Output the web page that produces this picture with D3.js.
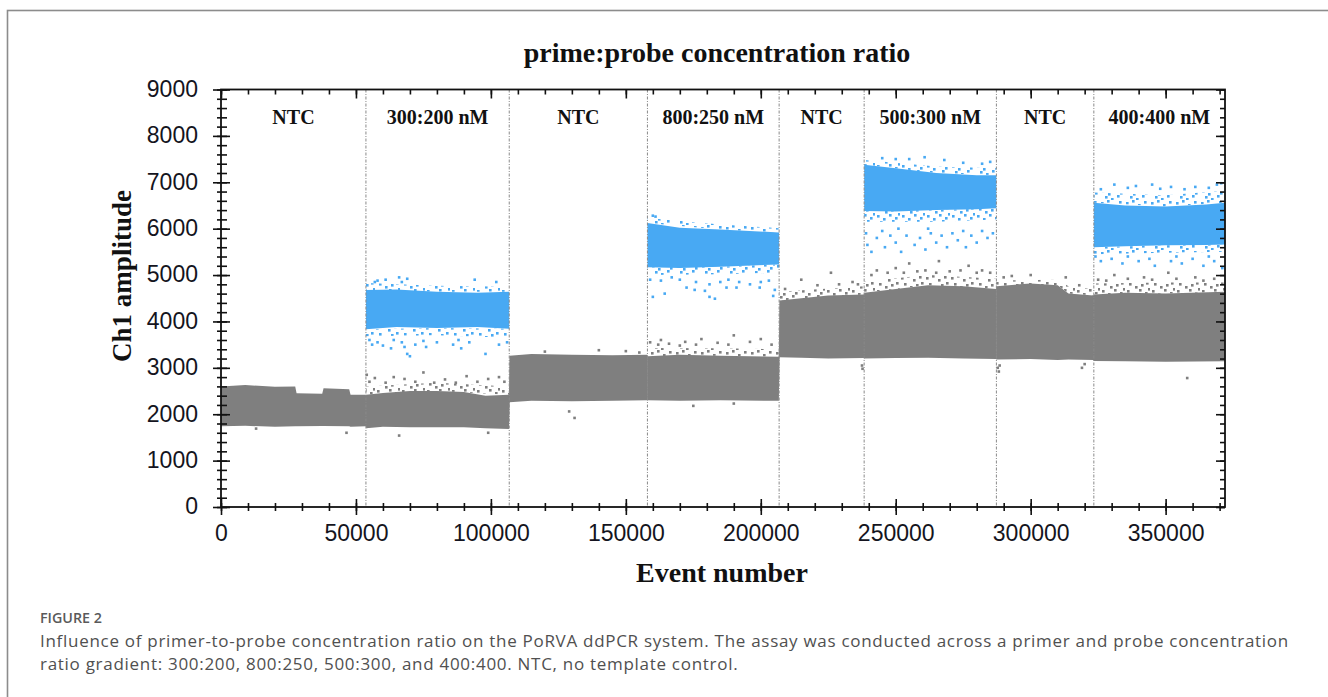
<!DOCTYPE html>
<html>
<head>
<meta charset="utf-8">
<script src="https://cdn.jsdelivr.net/npm/d3@7"></script>
<style>
  html, body { margin: 0; padding: 0; background: #fff; }
  svg { display: block; }
</style>
</head>
<body>
<svg id="chart" width="1328" height="697"></svg>
<script>
// ---------------- DATA ----------------
const chartTitle = "prime:probe concentration ratio";
const yLabel = "Ch1 amplitude";
const xLabel = "Event number";
const captionHead = "FIGURE 2";
const captionLines = [
  "Influence of primer-to-probe concentration ratio on the PoRVA ddPCR system. The assay was conducted across a primer and probe concentration",
  "ratio gradient: 300:200, 800:250, 500:300, and 400:400. NTC, no template control."
];
const xTicksMajor = [0, 50000, 100000, 150000, 200000, 250000, 300000, 350000];
const yTicksMajor = [0, 1000, 2000, 3000, 4000, 5000, 6000, 7000, 8000, 9000];
const xMax = 372000;
const yMax = 9000;

// well boundaries (event numbers) and labels
const boundaries = [0, 53700, 106800, 158000, 206800, 238300, 287300, 323400, 372000];
const segmentLabels = ["NTC", "300:200 nM", "NTC", "800:250 nM", "NTC", "500:300 nM", "NTC", "400:400 nM"];

// dense negative-droplet cloud (grey): [event, low amplitude, high amplitude]
const negBand = [
  [0,1740,2600],[9000,1750,2630],[20000,1730,2590],[27500,1740,2600],[28000,1740,2450],[37500,1745,2440],[38000,1745,2560],[47500,1740,2540],[48000,1730,2420],[53700,1740,2420],
  [53800,1700,2420],[60000,1730,2460],[70000,1720,2500],[80000,1720,2500],[90000,1720,2480],[98000,1700,2400],[106700,1680,2420],
  [106900,2260,3260],[115000,2290,3300],[130000,2280,3280],[145000,2290,3270],[157900,2300,3280],
  [158100,2300,3250],[170000,2290,3280],[185000,2300,3260],[206700,2290,3240],
  [206900,3230,4450],[215000,3220,4500],[225000,3200,4560],[238200,3210,4580],
  [238400,3200,4620],[250000,3210,4700],[262000,3220,4780],[275000,3200,4760],[287200,3190,4700],
  [287400,3180,4760],[300000,3190,4820],[310000,3170,4780],[314000,3180,4600],[323300,3170,4560],
  [323500,3150,4580],[335000,3140,4620],[350000,3130,4600],[372000,3140,4640]
];

// speckled fringe of the grey cloud (upper edge): [event, low, high]
const negFringe2 = [[53700,2420,2600],[80000,2500,2680],[106800,2420,2600]];
const negFringe4 = [[158000,3250,3430],[185000,3260,3420],[206800,3240,3400]];
const negFringe5 = [[206800,4450,4640],[238300,4580,4760]];
const negFringe6 = [[238300,4620,4860],[262000,4780,5000],[287300,4700,4920]];
const negFringe7 = [[287300,4760,4880],[310000,4780,4900],[314000,4600,4760],[323400,4560,4700]];
const negFringe8 = [[323400,4580,4820],[350000,4600,4840],[372000,4640,4840]];

// dense positive-droplet clouds (blue): [event, low amplitude, high amplitude]
const posBand2 = [[53700,3830,4680],[65000,3880,4690],[80000,3860,4640],[95000,3880,4620],[106800,3840,4640]];
const posBand4 = [[158000,5170,6120],[170000,5150,6020],[185000,5180,5980],[206800,5230,5920]];
const posBand6 = [[238300,6380,7380],[250000,6370,7300],[265000,6400,7200],[280000,6420,7150],[287300,6440,7150]];
const posBand8 = [[323400,5600,6560],[335000,5620,6500],[350000,5640,6480],[365000,5650,6520],[372000,5660,6560]];

// speckled fringes of the blue clouds: [event, low, high]
const posFringe2 = [[53700,3680,3830],[80000,3700,3860],[106800,3650,3840]];
const posFringe2u = [[53700,4680,4830],[80000,4640,4770],[106800,4640,4750]];
const posFringe4 = [[158000,5000,5170],[185000,5020,5180],[206800,5050,5230]];
const posFringe4u = [[158000,6120,6230],[185000,5980,6090],[206800,5920,6010]];
const posFringe6 = [[238300,6150,6380],[265000,6150,6400],[287300,6200,6440]];
const posFringe6u = [[238300,7380,7480],[265000,7200,7340],[287300,7150,7300]];
const posFringe8 = [[323400,5450,5600],[350000,5480,5640],[372000,5500,5660]];
const posFringe8u = [[323400,6560,6780],[350000,6480,6720],[372000,6560,6820]];

// scattered grey droplets outside the dense cloud: [event in thousands, amplitude]
const negOutliers = [
  [46.5,1600],[13,1690],
  [54,2850],[55,2700],[57,2780],[61,2680],[64,2800],[68,2760],[72,2700],[75,2900],[79,2680],[83,2750],[87,2680],[91,2820],[95,2700],[99,2760],[103,2800],[105,2700],
  [66,1540],[99,1600],
  [129,2060],[131,1920],[120,3350],[140,3380],[150,3360],[155,3330],
  [159,3550],[162,3500],[163,3600],[166,3520],[170,3480],[172,3560],[176,3500],[178,3620],[184,3540],[188,3500],[190,3700],[196,3560],[200,3620],[204,3500],
  [175,2180],[190,2230],
  [209,4700],[215,4900],[221,4780],[226,5050],[229,4800],[234,4850],[236,4800],
  [237.5,3050],[237.7,2980],
  [241,5000],[243,5100],[247,5050],[250,5150],[253,5050],[255,5250],[258,5080],[261,5100],[265,5050],[266,5300],[270,5080],[274,5100],[277,5200],[280,5050],[282,5100],[285,5050],
  [290,4950],[293,4980],[300,5000],[313,4950],[318,4780],
  [287.8,3000],[288.2,2920],[288.5,3050],[319,3000],[320,3080],
  [325,4900],[328,4880],[331,5000],[336,4920],[342,4950],[345,4900],[351,5050],[354,4920],[361,4950],[364,4880],[368,4920],
  [358,2780]
];

// scattered blue droplets outside the dense clouds: [event in thousands, amplitude]
const posOutliers = [
  [57,4850],[58,4880],[61,4900],[66,4950],[67,4850],[69,4920],[94,4900],[102,4850],
  [55,3600],[56,3500],[58,3550],[60,3480],[63,3420],[64,3600],[67,3550],[68,3450],[69,3300],[70,3250],[72,3500],[75,3580],[76,3450],[80,3550],[86,3500],[88,3600],[89,3420],[92,3550],[98,3300],[103,3500],[106,3550],
  [160,6280],[161,6260],
  [160,4530],[164.4,4600],[172.5,4730],[175.5,4680],[179.3,4660],[181,4530],[183,4490],[187.3,4730],[191,4730],[199.6,4730],[205.2,4680],[204.6,4550],
  [159,4900],[163,4880],[167,4950],[170,4900],[176,4850],[181,4800],[185,4850],[188,4900],[192,4850],[196,4800],[200,4850],[203,4880],
  [245,7520],[250,7500],[255,7500],[260.7,7540],[268,7480],[275,7420],[282,7400],[285,7440],
  [239,5900],[239.5,5650],[241,5500],[243,5800],[245,5950],[246,5600],[248,5850],[250,5700],[251,6000],[252,5500],[254,5850],[257,5650],[259,5800],[261,5550],[262,6000],[263,5900],[265,5700],[267,5850],[269,5600],[271,5900],[273,5750],[275,5950],[276,5600],[278,5850],[280,5700],[282,5950],[284,5800],[286,5900],
  [326,6850],[331,6950],[336,6880],[339,6920],[345,6950],[348,6860],[352,6900],[357,6850],[361,6900],[366,6880],[369,6950],[370.6,6980],
  [324,5400],[326,5300],[330,5350],[334,5250],[336,5400],[340,5300],[344,5350],[346,5200],[352,5300],[354,5400],[356,5250],[360,5350],[364,5200],[366,5400],[368,5300],[371,5150]
];

// ---------------- DRAW ----------------
const GREY = "#7f7f7f";
const BLUE = "#48a9f3";
const svg = d3.select("#chart");

// speckle patterns (style only)
const defs = svg.append("defs");
const speckle = [[1,2],[7,0],[13,4],[19,1],[4,8],[10,11],[16,9],[21,7],[2,15],[8,18],[14,14],[20,17],[5,21],[11,23],[17,20],[23,13]];
[["spGrey", GREY], ["spBlue", BLUE]].forEach(([id, col]) => {
  const p = defs.append("pattern").attr("id", id).attr("patternUnits", "userSpaceOnUse")
    .attr("width", 25).attr("height", 25);
  p.selectAll("rect").data(speckle).join("rect")
    .attr("x", d => d[0]).attr("y", d => d[1]).attr("width", 2.6).attr("height", 2.6).attr("fill", col);
});

// outer frame
svg.append("rect").attr("x", 7.5).attr("y", 10.5).attr("width", 1400).attr("height", 800)
  .attr("fill", "none").attr("stroke", "#8c8c8c").attr("stroke-width", 1.6);

const plot = { left: 221, right: 1225, top: 89.5, bottom: 507 };
const x = d3.scaleLinear().domain([0, xMax]).range([plot.left, plot.right]);
const y = d3.scaleLinear().domain([0, yMax]).range([plot.bottom, plot.top]);

const g = svg.append("g");
const area = d3.area().x(d => x(d[0])).y0(d => y(d[1])).y1(d => y(d[2]));

// fringes
[negFringe2, negFringe4, negFringe5, negFringe6, negFringe7, negFringe8].forEach(b => {
  g.append("path").datum(b).attr("d", area).attr("fill", "url(#spGrey)");
});
[posFringe2, posFringe2u, posFringe4, posFringe4u, posFringe6, posFringe6u, posFringe8, posFringe8u].forEach(b => {
  g.append("path").datum(b).attr("d", area).attr("fill", "url(#spBlue)");
});

// dense clouds
for (let i = 0; i < boundaries.length - 1; i++) {
  const seg = negBand.filter(d => d[0] >= boundaries[i] - 200 && d[0] <= boundaries[i + 1] + 200);
  g.append("path").datum(seg).attr("d", area).attr("fill", GREY);
}
[posBand2, posBand4, posBand6, posBand8].forEach(b => {
  g.append("path").datum(b).attr("d", area).attr("fill", BLUE);
});

// scattered droplets
const S = 2.6;
g.selectAll(".neg").data(negOutliers).join("rect")
  .attr("x", d => x(d[0] * 1000) - S / 2).attr("y", d => y(d[1]) - S / 2)
  .attr("width", S).attr("height", S).attr("fill", GREY);
g.selectAll(".pos").data(posOutliers).join("rect")
  .attr("x", d => x(d[0] * 1000) - S / 2).attr("y", d => y(d[1]) - S / 2)
  .attr("width", S).attr("height", S).attr("fill", BLUE);

// divider lines
g.selectAll(".div").data(boundaries.slice(1, -1)).join("line")
  .attr("x1", d => x(d)).attr("x2", d => x(d))
  .attr("y1", plot.top).attr("y2", plot.bottom)
  .attr("stroke", "#8a8a8a").attr("stroke-width", 1)
  .attr("stroke-dasharray", "3,1.5,1,1.5");

// segment labels
g.selectAll(".seglab").data(segmentLabels).join("text")
  .attr("x", (d, i) => x((boundaries[i] + boundaries[i + 1]) / 2))
  .attr("y", 124)
  .attr("text-anchor", "middle")
  .attr("font-family", "'Liberation Serif', 'Times New Roman', serif")
  .attr("font-weight", "bold").attr("font-size", 20).attr("fill", "#111")
  .text(d => d);

// axes
const minorX = d3.range(0, xMax + 1, 10000);
const minorY = d3.range(0, yMax + 1, 200);
const axisColor = "#111";
function styleAxis(sel) {
  sel.select(".domain").remove();
  sel.selectAll("line").attr("stroke", axisColor).attr("stroke-width", 1.6);
}

const bottomMinor = svg.append("g").attr("transform", `translate(0,${plot.bottom})`)
  .call(d3.axisBottom(x).tickValues(minorX).tickSize(4).tickFormat(""));
styleAxis(bottomMinor);
bottomMinor.selectAll("line").attr("y1", -4).attr("y2", 4);
const bottomMajor = svg.append("g").attr("transform", `translate(0,${plot.bottom})`)
  .call(d3.axisBottom(x).tickValues(xTicksMajor).tickSize(8).tickFormat(d3.format("d")));
styleAxis(bottomMajor);
bottomMajor.selectAll("line").attr("y1", -8).attr("y2", 8);
bottomMajor.selectAll("text").attr("y", 34).attr("dy", null)
  .attr("font-family", "'Liberation Sans', Arial, sans-serif").attr("font-size", 23).attr("fill", "#141420");

const topMinor = svg.append("g").attr("transform", `translate(0,${plot.top})`)
  .call(d3.axisTop(x).tickValues(minorX).tickSize(-5).tickFormat(""));
styleAxis(topMinor);
const topMajor = svg.append("g").attr("transform", `translate(0,${plot.top})`)
  .call(d3.axisTop(x).tickValues(xTicksMajor).tickSize(-9).tickFormat(""));
styleAxis(topMajor);

const leftMinor = svg.append("g").attr("transform", `translate(${plot.left},0)`)
  .call(d3.axisLeft(y).tickValues(minorY).tickSize(4).tickFormat(""));
styleAxis(leftMinor);
leftMinor.selectAll("line").attr("x1", -4).attr("x2", 6);
const leftMajor = svg.append("g").attr("transform", `translate(${plot.left},0)`)
  .call(d3.axisLeft(y).tickValues(yTicksMajor).tickSize(8).tickFormat(d3.format("d")));
styleAxis(leftMajor);
leftMajor.selectAll("line").attr("x1", -8).attr("x2", 9);
leftMajor.selectAll("text").attr("x", -23).attr("dy", "0.3em")
  .attr("font-family", "'Liberation Sans', Arial, sans-serif").attr("font-size", 23).attr("fill", "#141420");

const rightMinor = svg.append("g").attr("transform", `translate(${plot.right},0)`)
  .call(d3.axisRight(y).tickValues(minorY).tickSize(-5).tickFormat(""));
styleAxis(rightMinor);
const rightMajor = svg.append("g").attr("transform", `translate(${plot.right},0)`)
  .call(d3.axisRight(y).tickValues(yTicksMajor).tickSize(-9).tickFormat(""));
styleAxis(rightMajor);

svg.append("rect").attr("x", plot.left).attr("y", plot.top)
  .attr("width", plot.right - plot.left).attr("height", plot.bottom - plot.top)
  .attr("fill", "none").attr("stroke", axisColor).attr("stroke-width", 1.8);

// titles
svg.append("text").attr("x", 717).attr("y", 62).attr("text-anchor", "middle")
  .attr("font-family", "'Liberation Serif', 'Times New Roman', serif").attr("font-weight", "bold")
  .attr("font-size", 28).attr("fill", "#111").text(chartTitle);
svg.append("text").attr("transform", "translate(131,276) rotate(-90)").attr("text-anchor", "middle")
  .attr("font-family", "'Liberation Serif', 'Times New Roman', serif").attr("font-weight", "bold")
  .attr("font-size", 27).attr("fill", "#111").text(yLabel);
svg.append("text").attr("x", 722).attr("y", 582).attr("text-anchor", "middle")
  .attr("font-family", "'Liberation Serif', 'Times New Roman', serif").attr("font-weight", "bold")
  .attr("font-size", 28).attr("fill", "#111").text(xLabel);

// caption
svg.append("text").attr("x", 40).attr("y", 623)
  .attr("font-family", "'Open Sans', 'Noto Sans', sans-serif").attr("font-weight", 600)
  .attr("font-size", 14.3).attr("fill", "#5a5a5a").text(captionHead);
svg.selectAll(".cap").data(captionLines).join("text")
  .attr("x", 40).attr("y", (d, i) => 647 + i * 23)
  .attr("font-family", "'Open Sans', 'Noto Sans', sans-serif")
  .attr("font-size", 17).attr("letter-spacing", 0.71).attr("fill", "#505050").text(d => d);
</script>
</body>
</html>
